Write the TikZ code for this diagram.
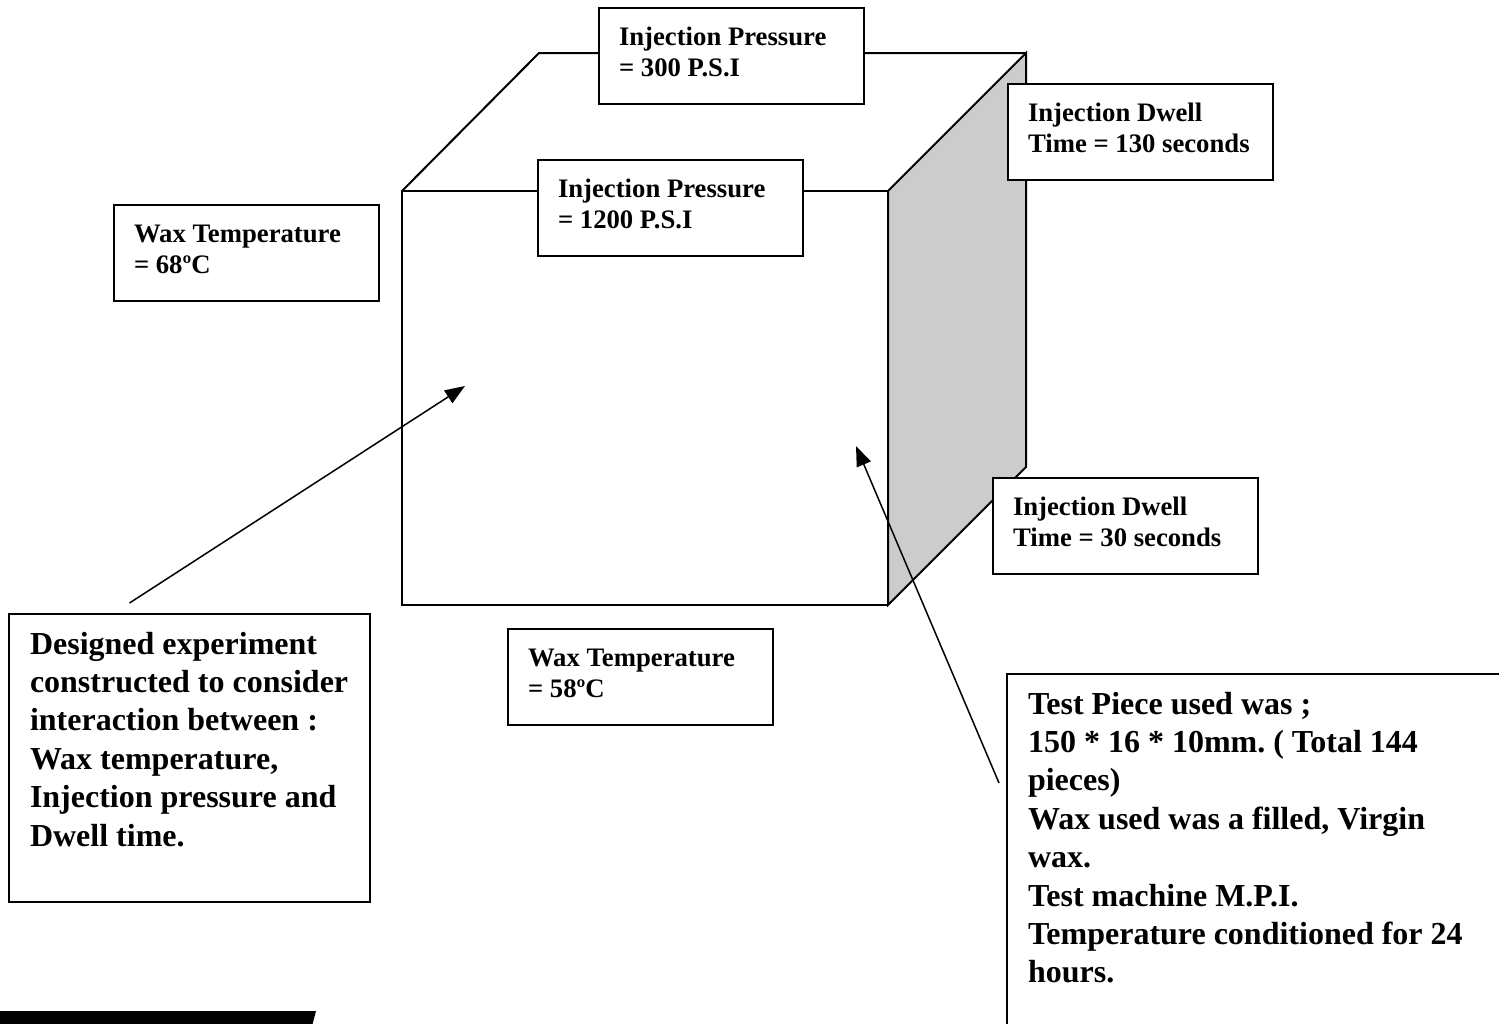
\documentclass[tikz,border=0pt]{standalone}
\usepackage{fontspec}
\setmainfont{Liberation Serif}
\usetikzlibrary{arrows.meta}
\tikzset{
factor/.style={
       rectangle,
       draw=black,
       fill=white,
       line width=2pt,
       anchor=north west,
       text width=225pt,
       inner xsep=20pt,
       inner ysep=19pt,
       text height=18pt,
       text depth=40pt,
       align=flush left,
       font=\bfseries\fontsize{26.7}{31.5}\selectfont\frenchspacing,
       },
note/.style={
       rectangle,
       draw=black,
       fill=white,
       line width=2pt,
       anchor=north west,
       inner xsep=21pt,
       inner ysep=18pt,
       text height=22pt,
       align=flush left,
       font=\bfseries\fontsize{32}{38.4}\selectfont\frenchspacing,
       },
cubeline/.style={line width=2pt, line join=miter},
pointer/.style={-{Triangle[length=20pt,width=15pt]}, line width=1.5pt},
}

\begin{document}
\begin{tikzpicture}[x=1pt, y=-1pt]
      \useasboundingbox (0,0) rectangle (1499,1023);
      \clip (0,0) rectangle (1499,1023);

      % corners of the cube
      \coordinate (ftl) at (402,191);
      \coordinate (ftr) at (888,191);
      \coordinate (fbr) at (888,605);
      \coordinate (fbl) at (402,605);
      \coordinate (btl) at (539,53);
      \coordinate (btr) at (1026,53);
      \coordinate (bbr) at (1026,467);

      \filldraw[cubeline, fill=black!20] (ftr) -- (btr) -- (bbr) -- (fbr) -- cycle;
      \draw[cubeline] (fbl) rectangle (ftr);
      \draw[cubeline] (ftl) -- (btl) -- (btr);

      % factor levels on the edges
      \foreach \n/\x/\y/\l in {
          highpress/598/7/{Injection Pressure\\= 300 P.S.I},
          lowpress/537/159/{Injection Pressure\\= 1200 P.S.I},
          hightemp/113/204/{Wax Temperature\\= 68ºC},
          lowtemp/507/628/{Wax Temperature\\= 58ºC},
          longdwell/1007/83/{Injection Dwell\\Time = 130 seconds},
          shortdwell/992/477/{Injection Dwell\\Time = 30 seconds}
      } {
          \node[factor] (\n) at (\x,\y) {\l};
      }

      \node[note, text width=319pt, text depth=230pt] (design) at (8,613) {
                Designed experiment\\
                constructed to consider\\
                interaction between :\\
                Wax temperature,\\
                Injection pressure and\\
                Dwell time.
            };
      \node[note, text width=480pt, text depth=330pt] (testpiece) at (1006,673) {
                Test Piece used was ;\\
                150 * 16 * 10mm. ( Total 144\\
                pieces)\\
                Wax used was a filled, Virgin\\
                wax.\\
                Test machine M.P.I.\\
                Temperature conditioned for 24\\
                hours.
            };

      % Draw arrows into the cube
      \coordinate (frontspot) at (465,386);
      \coordinate (sidespot) at (856,446);
      \draw[pointer] ([shift={(-60pt,10pt)}]design.north) -- (frontspot);
      \draw[pointer] ([shift={(-7pt,-110pt)}]testpiece.north west) -- (sidespot);

      \fill (0,1011) -- (316,1011) -- (311,1030) -- (0,1030) -- cycle;
    \end{tikzpicture}
\end{document}
